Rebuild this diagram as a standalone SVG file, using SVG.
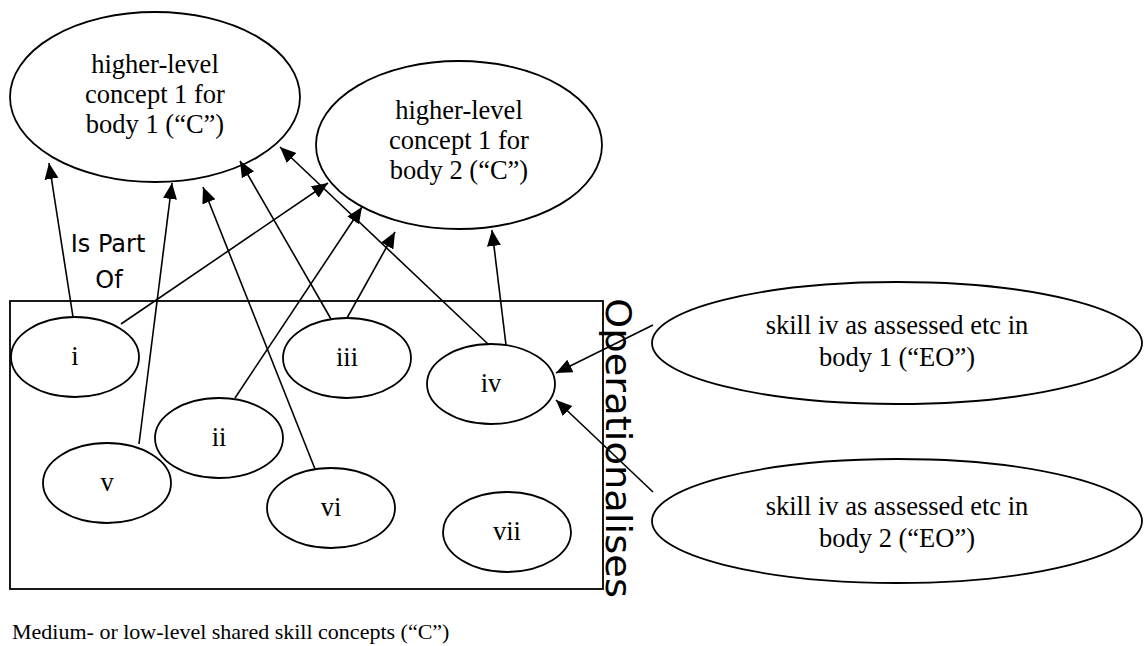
<svg xmlns="http://www.w3.org/2000/svg" width="1146" height="646" viewBox="0 0 1146 646">
<style>
.n{fill:#fff;stroke:#000;stroke-width:1.8}
.t{font-family:"Liberation Serif","Times New Roman",serif;font-size:26.5px;fill:#000;text-anchor:middle}
.s{font-family:"DejaVu Sans",sans-serif;fill:#000}
.c line{stroke:#000;stroke-width:1.6;marker-end:url(#ah)}
</style>
<defs>
<marker id="ah" markerUnits="userSpaceOnUse" markerWidth="17" markerHeight="15" refX="16" refY="7" orient="auto">
<path d="M0,0 L16,7 L0,14 Z" fill="#000"/>
</marker>
</defs>
<rect x="10" y="301" width="593" height="288" fill="none" stroke="#000" stroke-width="1.8"/>
<g id="C1"><ellipse class="n" cx="155" cy="97" rx="145" ry="85"/>
<text class="t" x="155" y="73">higher-level</text><text class="t" x="155" y="103">concept 1 for</text><text class="t" x="155" y="133">body 1 (“C”)</text></g>
<g id="C2"><ellipse class="n" cx="459" cy="145" rx="143" ry="84"/>
<text class="t" x="459" y="119">higher-level</text><text class="t" x="459" y="149">concept 1 for</text><text class="t" x="459" y="179">body 2 (“C”)</text></g>
<g id="EO1"><ellipse class="n" cx="897" cy="343" rx="245" ry="61"/>
<text class="t" x="897" y="334">skill iv as assessed etc in</text><text class="t" x="897" y="366">body 1 (“EO”)</text></g>
<g id="EO2"><ellipse class="n" cx="897" cy="521" rx="245" ry="62"/>
<text class="t" x="897" y="515">skill iv as assessed etc in</text><text class="t" x="897" y="547">body 2 (“EO”)</text></g>
<g id="n1"><ellipse class="n" cx="75" cy="357" rx="64" ry="40"/><text class="t" x="75" y="365">i</text></g>
<g id="n2"><ellipse class="n" cx="219" cy="438" rx="64" ry="40"/><text class="t" x="219" y="446">ii</text></g>
<g id="n3"><ellipse class="n" cx="347" cy="358" rx="64" ry="40"/><text class="t" x="347" y="366">iii</text></g>
<g id="n4"><ellipse class="n" cx="491" cy="384" rx="64" ry="40"/><text class="t" x="491" y="392">iv</text></g>
<g id="n5"><ellipse class="n" cx="107" cy="483" rx="64" ry="40"/><text class="t" x="107" y="491">v</text></g>
<g id="n6"><ellipse class="n" cx="331" cy="508" rx="64" ry="40"/><text class="t" x="331" y="516">vi</text></g>
<g id="n7"><ellipse class="n" cx="507" cy="532" rx="64" ry="40"/><text class="t" x="507" y="540">vii</text></g>
<g class="c" id="connectors">
<line x1="73" y1="317" x2="49" y2="163"/>
<line x1="139" y1="444" x2="172" y2="183"/>
<line x1="315" y1="469" x2="203" y2="187"/>
<line x1="331" y1="319" x2="240" y2="161"/>
<line x1="488" y1="344" x2="280" y2="147"/>
<line x1="121" y1="324" x2="328" y2="183"/>
<line x1="235" y1="398" x2="362" y2="207"/>
<line x1="347" y1="318" x2="395" y2="232"/>
<line x1="506" y1="345" x2="492" y2="230"/>
<line x1="653" y1="325" x2="556" y2="373"/>
<line x1="653" y1="492" x2="556" y2="400"/>
</g>
<text class="s" font-size="24" x="108" y="252" text-anchor="middle">Is Part</text>
<text class="s" font-size="24" x="109" y="288" text-anchor="middle">Of</text>
<text class="s" font-size="36" transform="translate(606,298) rotate(90)" textLength="300" lengthAdjust="spacingAndGlyphs">Operationalises</text>
<text class="t" x="12" y="639" style="text-anchor:start;font-size:22px">Medium- or low-level shared skill concepts (“C”)</text>
</svg>
